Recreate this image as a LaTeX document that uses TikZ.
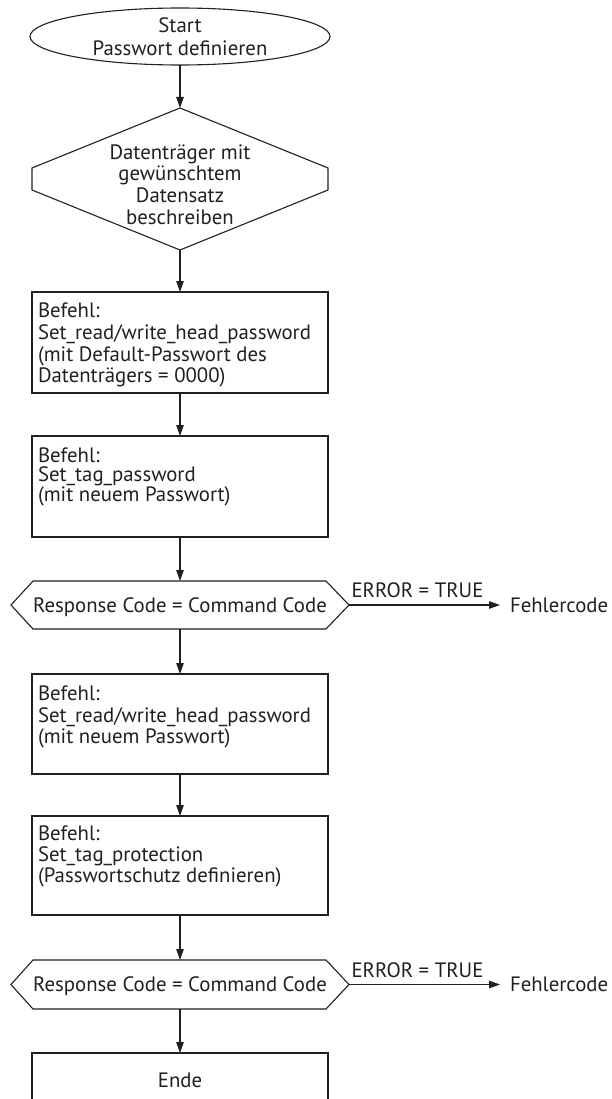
\documentclass[tikz,border=0pt]{standalone}
\usepackage{fontspec}
\setmainfont{PT Sans}
\usetikzlibrary{arrows.meta,shapes.geometric}
\definecolor{ink}{HTML}{231F20}
\begin{document}
\begin{tikzpicture}[x=1pt,y=-1pt,
  line width=1.1pt, color=ink,
  every node/.style={inner sep=0pt,outer sep=0pt,font=\fontsize{20.8}{21.5}\selectfont},
  flowbox/.style={draw,rectangle,minimum width=296pt,minimum height=101pt,anchor=north},
  boxtext/.style={anchor=north west,align=left},
  hexnode/.style={minimum width=338pt,minimum height=48pt,text height=14pt,text depth=0pt},
  arr/.style={-{Triangle[length=11pt,width=7.5pt]}},
  errlabel/.style={midway,above=7pt,xshift=-7pt},
  errtarget/.style={anchor=west,inner xsep=10pt},
]
\useasboundingbox (0,0) rectangle (612,1099);
\clip (0,0) rectangle (612,1099);

% start
\node[draw,ellipse,minimum width=300pt,minimum height=57pt,align=center,
      font=\fontsize{20.8}{23}\selectfont] (start) at (180,36.5) {Start\\Passwort definieren};

% decision-like hexagon
\node[minimum width=296pt,minimum height=142pt] (dia) at (180,179) {};
\draw (dia.north) -- ([yshift=11pt]dia.east) -- ([yshift=-11pt]dia.east) -- (dia.south)
      -- ([yshift=-11pt]dia.west) -- ([yshift=11pt]dia.west) -- cycle;
\node[align=center,font=\fontsize{20.8}{21.7}\selectfont] (diatext) at (180,184.5)
      {Datenträger mit\\gewünschtem\\Datensatz\\beschreiben};

% box 1
\node[flowbox] (b1) at (180,292) {};
\node[boxtext,font=\fontsize{20.8}{21.7}\selectfont] (t1) at ([xshift=6pt,yshift=-11pt]b1.north west)
      {Befehl:\\Set\_read/write\_head\_password\\(mit Default-Passwort des\\Datenträgers = 0000)};

% box 2
\node[flowbox] (b2) at (180,436) {};
\node[boxtext,font=\fontsize{20.8}{19}\selectfont] (t2) at ([xshift=6pt,yshift=-12pt]b2.north west)
      {Befehl:\\Set\_tag\_password\\(mit neuem Passwort)};

% check 1
\node[hexnode] (h1) at (180,605) {Response Code = Command Code};
\draw (h1.west) -- ([xshift=22pt]h1.north west) -- ([xshift=-23pt]h1.north east) -- (h1.east)
      -- ([xshift=-23pt]h1.south east) -- ([xshift=22pt]h1.south west) -- cycle;
\node[errtarget] (f1) at (500,605) {Fehlercode};

% box 3
\node[flowbox,minimum height=100pt] (b3) at (180,674) {};
\node[boxtext,font=\fontsize{20.8}{21.5}\selectfont] (t3) at ([xshift=6pt,yshift=-12pt]b3.north west)
      {Befehl:\\Set\_read/write\_head\_password\\(mit neuem Passwort)};

% box 4
\node[flowbox,minimum height=99pt] (b4) at (180,816) {};
\node[boxtext,font=\fontsize{20.8}{21}\selectfont] (t4) at ([xshift=6pt,yshift=-10pt]b4.north west)
      {Befehl:\\Set\_tag\_protection\\(Passwortschutz definieren)};

% check 2
\node[hexnode,minimum height=49pt] (h2) at (180,984.5) {Response Code = Command Code};
\draw (h2.west) -- ([xshift=22pt]h2.north west) -- ([xshift=-23pt]h2.north east) -- (h2.east)
      -- ([xshift=-23pt]h2.south east) -- ([xshift=22pt]h2.south west) -- cycle;
\node[errtarget] (f2) at (500,984.5) {Fehlercode};

% end box
\node[flowbox] (b5) at (180,1053) {};
\node (t5) at ([yshift=-27pt]b5.north) {Ende};

% connectors
\draw[arr] (start.south) -- (dia.north);
\draw[arr] (dia.south) -- (b1.north);
\draw[arr] (b1.south) -- (b2.north);
\draw[arr] (b2.south) -- (h1.north);
\draw[arr] (h1.east) -- (f1.west) node[errlabel] {ERROR = TRUE};
\draw[arr] (h1.south) -- (b3.north);
\draw[arr] (b3.south) -- (b4.north);
\draw[arr] (b4.south) -- (h2.north);
\draw[arr] (h2.east) -- (f2.west) node[errlabel] {ERROR = TRUE};
\draw[arr] (h2.south) -- (b5.north);
\end{tikzpicture}
\end{document}
